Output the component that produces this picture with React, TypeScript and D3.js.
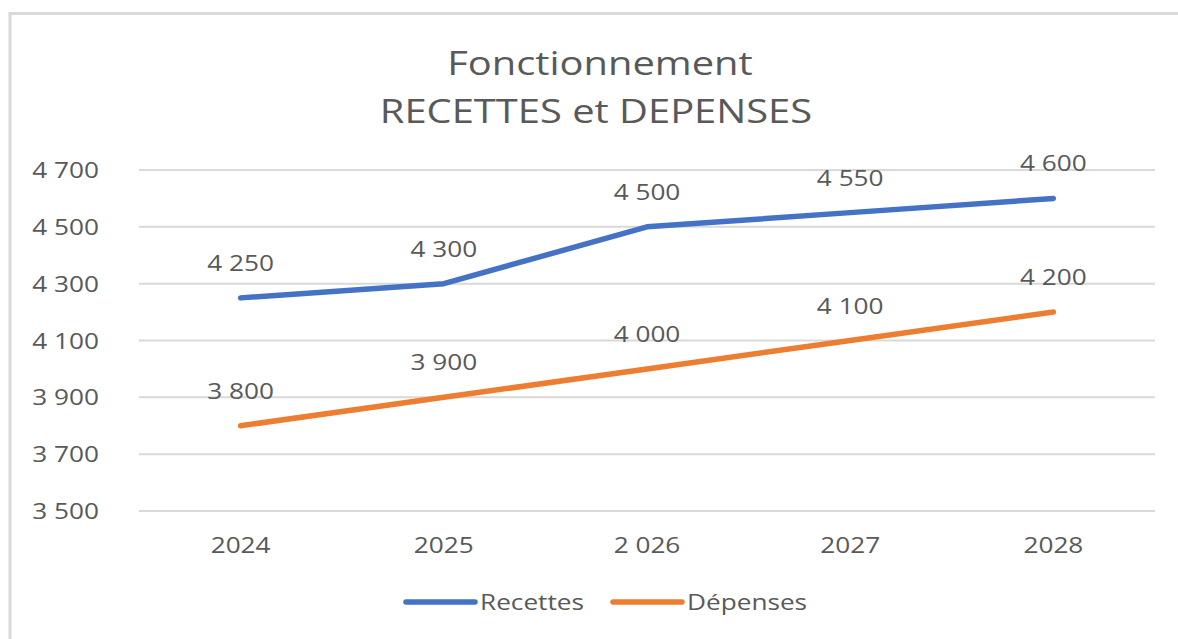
import React from 'react'
import * as d3 from 'd3'

const categories = ['2024', '2025', '2 026', '2027', '2028']
const recettes = [4250, 4300, 4500, 4550, 4600]
const depenses = [3800, 3900, 4000, 4100, 4200]
const yTicks = [3500, 3700, 3900, 4100, 4300, 4500, 4700]

const series = [
  { name: 'Recettes', values: recettes, color: '#4472C4' },
  { name: 'Dépenses', values: depenses, color: '#ED7D31' }
]

const width = 1178
const height = 639
const plot = { left: 139, right: 1155, top: 170, bottom: 511 }
const textColor = '#595959'
const font = '"Open Sans", "DejaVu Sans", sans-serif'
const stretch = 1.19

const fmt = (v: number) => d3.format(',')(v).replace(/,/g, ' ')

function Txt({ x, y, size, anchor = 'middle', children }: any) {
  return (
    <text
      transform={`translate(${x},${y}) scale(${stretch},1)`}
      fontSize={size}
      fontFamily={font}
      fill={textColor}
      textAnchor={anchor}
    >
      {children}
    </text>
  )
}

export default function App() {
  const x = d3
    .scaleBand()
    .domain(categories)
    .range([plot.left, plot.right])
  const y = d3
    .scaleLinear()
    .domain([3500, 4700])
    .range([plot.bottom, plot.top])
  const cx = (c: string) => (x(c) as number) + x.bandwidth() / 2

  const line = d3
    .line<number>()
    .x((_, i) => cx(categories[i]))
    .y(d => y(d))

  const legendX = [406, 613]

  return (
    <svg
      width={width}
      height={height}
      style={{ position: 'absolute', left: 0, top: 0, background: '#fff' }}
    >
      <rect x={0} y={0} width={width} height={height} fill="#fff" />
      <rect
        x={10}
        y={13.5}
        width={width + 20}
        height={height + 20}
        fill="none"
        stroke="#d9d9d9"
        strokeWidth={3}
      />

      <Txt x={600} y={75} size={33.5}>Fonctionnement</Txt>
      <Txt x={596} y={123} size={33.5}>RECETTES et DEPENSES</Txt>

      {yTicks.map(t => (
        <g key={t}>
          <line
            x1={plot.left}
            x2={plot.right}
            y1={y(t)}
            y2={y(t)}
            stroke="#d9d9d9"
            strokeWidth={2}
          />
          <Txt x={99} y={y(t) + 8} size={22} anchor="end">
            {fmt(t)}
          </Txt>
        </g>
      ))}

      {categories.map(c => (
        <Txt key={c} x={cx(c)} y={553} size={22}>
          {c}
        </Txt>
      ))}

      {series.map(s => (
        <g key={s.name}>
          <path
            d={line(s.values) || ''}
            fill="none"
            stroke={s.color}
            strokeWidth={5.5}
            strokeLinecap="round"
            strokeLinejoin="round"
          />
          {s.values.map((v, i) => (
            <Txt key={i} x={cx(categories[i])} y={y(v) - 27} size={22}>
              {fmt(v)}
            </Txt>
          ))}
        </g>
      ))}

      {series.map((s, i) => (
        <g key={s.name}>
          <line
            x1={legendX[i]}
            x2={legendX[i] + 69}
            y1={602}
            y2={602}
            stroke={s.color}
            strokeWidth={5.5}
            strokeLinecap="round"
          />
          <Txt x={legendX[i] + 74} y={610} size={22} anchor="start">
            {s.name}
          </Txt>
        </g>
      ))}
    </svg>
  )
}
